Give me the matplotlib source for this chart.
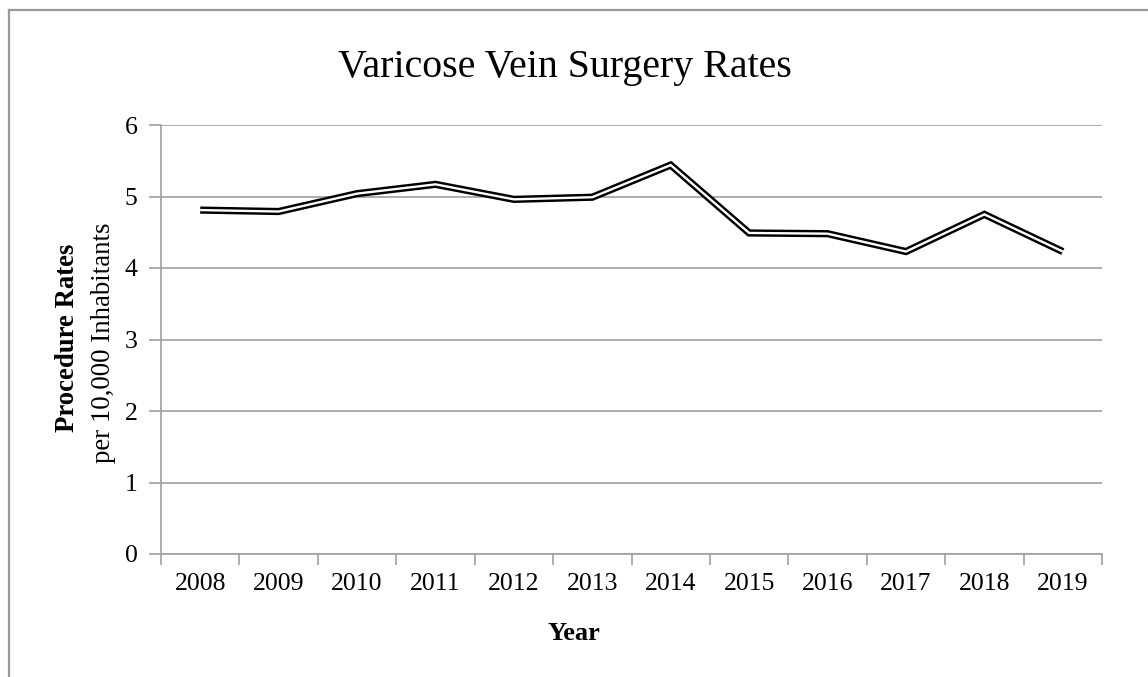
import matplotlib
matplotlib.use("Agg")
import matplotlib.pyplot as plt
import numpy as np
from matplotlib.lines import Line2D

# data
years = ["2008", "2009", "2010", "2011", "2012", "2013",
         "2014", "2015", "2016", "2017", "2018", "2019"]
rates = [4.81, 4.79, 5.04, 5.17, 4.96, 4.99,
         5.44, 4.49, 4.48, 4.23, 4.75, 4.23]
y_ticks = [0, 1, 2, 3, 4, 5, 6]

grid_col = "#a0a0a0"
serif = ["Liberation Serif", "DejaVu Serif"]

fig = plt.figure(figsize=(11.48, 6.77), dpi=100)
ax = fig.add_axes([161 / 1148, 1 - 554 / 677, (1102 - 161) / 1148, (554 - 125) / 677])

x = np.arange(len(years))

# double line: thick black with a thin white core
ax.plot(x, rates, color="black", lw=5.2, solid_joinstyle="miter",
        solid_capstyle="butt", zorder=3)
ax.plot(x, rates, color="white", lw=1.7, solid_joinstyle="miter",
        solid_capstyle="butt", zorder=4)

ax.set_xlim(-0.5, len(years) - 0.5)
ax.set_ylim(0, 6)

# category boundaries as tick marks, labels centred in slots
ax.set_xticks(np.arange(-0.5, len(years), 1.0))
ax.set_xticklabels([])
ax.set_xticks(x, minor=True)
ax.set_xticklabels(years, minor=True, fontfamily=serif, fontsize=18.5)
ax.tick_params(axis="x", which="major", direction="out", length=8,
               width=1.2, color=grid_col)
ax.tick_params(axis="x", which="minor", length=0, pad=14)

ax.set_yticks(y_ticks)
ax.set_yticklabels([str(v) for v in y_ticks], fontfamily=serif, fontsize=18.5)
ax.tick_params(axis="y", direction="out", length=9, width=1.2,
               color=grid_col, pad=8)

ax.grid(axis="y", color=grid_col, lw=1.2)
ax.set_axisbelow(True)
for side in ["top", "right"]:
    ax.spines[side].set_visible(False)
for side in ["left", "bottom"]:
    ax.spines[side].set_color(grid_col)
    ax.spines[side].set_linewidth(1.2)

# title and axis labels
fig.text(565 / 1148, 1 - 77 / 677, "Varicose Vein Surgery Rates",
         fontfamily=serif, fontsize=28.7, ha="center", va="baseline")
fig.text(574 / 1148, 1 - 640 / 677, "Year", fontfamily=serif,
         fontsize=19, fontweight="bold", ha="center", va="baseline")
fig.text(67 / 1148, 1 - 338 / 677, "Procedure Rates", fontfamily=serif,
         fontsize=19.3, fontweight="bold", rotation=90, ha="center", va="center")
fig.text(103 / 1148, 1 - 343 / 677, "per 10,000 Inhabitants", fontfamily=serif,
         fontsize=19.3, rotation=90, ha="center", va="center")

# chart-area border (top and left edges visible)
fig.add_artist(Line2D([9 / 1148, 9 / 1148], [0, 1 - 10 / 677],
                      transform=fig.transFigure, color="#999999", lw=1.6))
fig.add_artist(Line2D([9 / 1148, 1], [1 - 10 / 677, 1 - 10 / 677],
                      transform=fig.transFigure, color="#999999", lw=1.6))

fig.savefig("out.png", dpi=100)
